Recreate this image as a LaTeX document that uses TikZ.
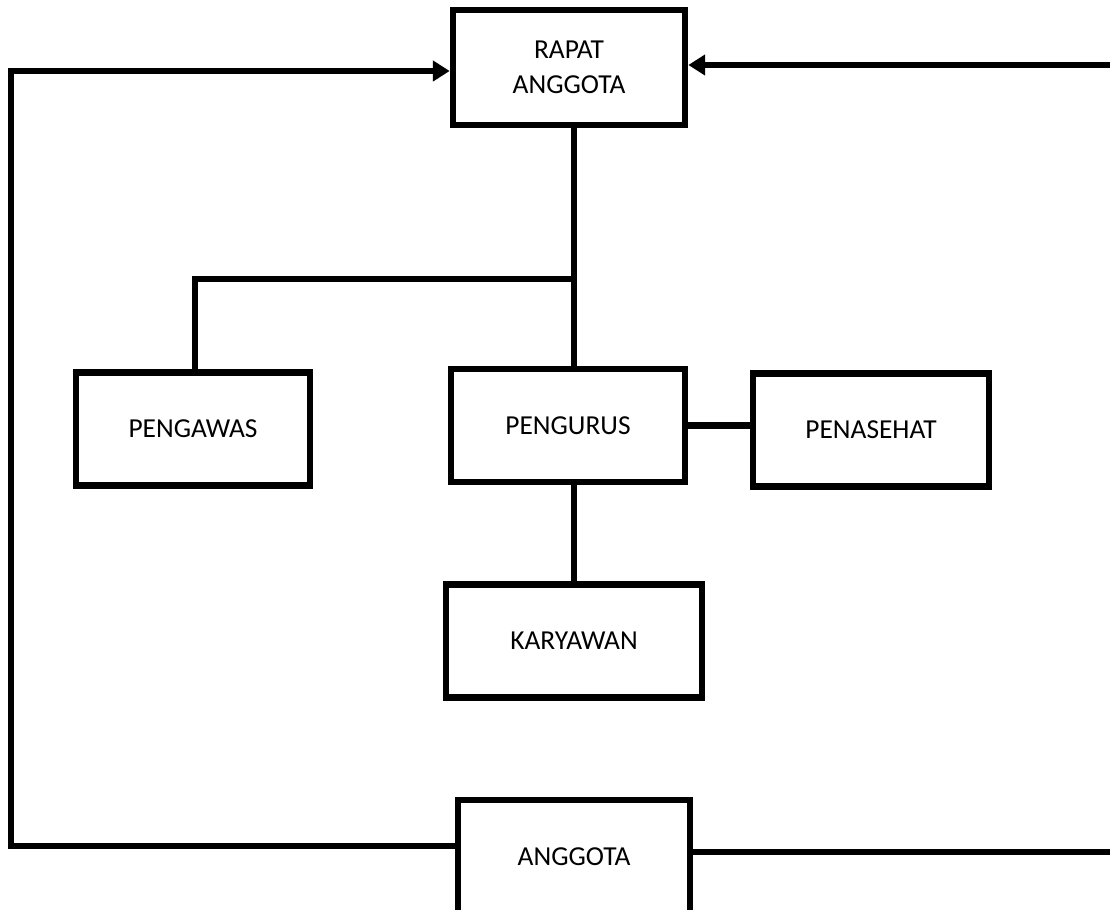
\documentclass[tikz,border=0pt]{standalone}
\usepackage{fontspec}
\setmainfont{Carlito}
\usetikzlibrary{arrows.meta}

\tikzset{
  box/.style={draw, line width=0.165cm, minimum width=5.85cm, minimum height=2.83cm,
    inner sep=0pt, align=center, font=\fontsize{19.5}{25}\selectfont},
  link/.style={line width=0.16cm},
  feed/.style={link, -{Triangle[length=0.42cm, width=0.5cm]}}
}

\begin{document}
\begin{tikzpicture}[x=0.025cm, y=-0.025cm]
\useasboundingbox (0,0) rectangle (1110,909);

% boxes
\node[box, minimum width=5.8cm, minimum height=2.88cm] (rapat) at (569,67.5) {RAPAT\\ANGGOTA};
\node[box] (pengawas) at (193,429) {PENGAWAS};
\node[box] (pengurus) at (568,425.5) {PENGURUS};
\node[box, minimum width=5.9cm] (penasehat) at (871,430) {PENASEHAT};
\node[box, minimum width=6.4cm] (karyawan) at (574,641) {KARYAWAN};
\node[box, minimum width=5.8cm, minimum height=2.85cm] (anggota) at (574,857) {ANGGOTA};

% loose ends
\coordinate (tee) at (574,279);
\coordinate (looptop) at (11,71);
\coordinate (looplow) at (11,846);
\coordinate (righttop) at (1115,65);
\coordinate (rightlow) at (1115,852);

% lines
\draw[link] (rapat.south -| tee) -- (pengurus.north -| tee);
\draw[link] (tee) -| (pengawas.north -| 195,0);
\draw[link] (pengurus.east) -- (pengurus.east -| penasehat.west);
\draw[link] (pengurus.south -| karyawan.north) -- (karyawan.north);
\draw[feed] (anggota.west |- looplow) -- (looplow) |- (rapat.west |- looptop);
\draw[link] (anggota.east |- rightlow) -- (rightlow);
\draw[feed] (righttop) -- (rapat.east |- righttop);
\end{tikzpicture}
\end{document}
